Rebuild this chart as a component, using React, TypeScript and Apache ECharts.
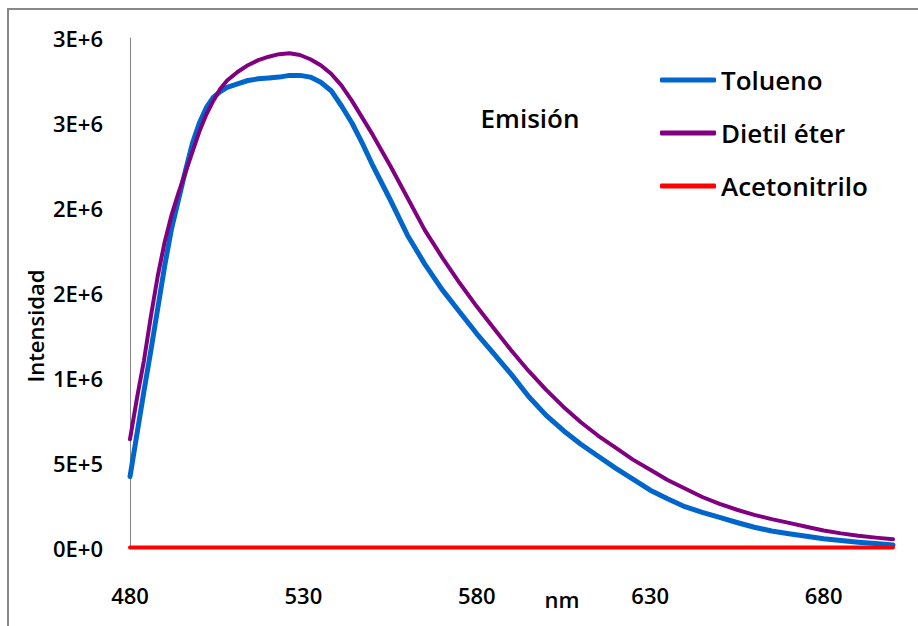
import React, { useEffect, useRef } from "react";
import * as echarts from "echarts";

// Wavelength (nm) grid shared by the two emission spectra
const WAVELENGTHS = [
  480, 482, 484, 486, 488, 490, 492, 494, 496, 498, 500, 502, 504, 506, 508,
  511, 514, 517, 520, 523, 526, 529, 532, 535, 538, 541, 544, 547, 550, 555,
  560, 565, 570, 575, 580, 585, 590, 595, 600, 605, 610, 615, 620, 625, 630,
  635, 640, 645, 650, 655, 660, 665, 670, 675, 680, 685, 690, 695, 700,
];

const TOLUENO = [
  420000, 670000, 920000, 1160000, 1410000, 1660000, 1880000, 2050000, 2220000, 2380000,
  2500000, 2590000, 2650000, 2685000, 2710000, 2730000, 2750000, 2760000, 2765000, 2770000,
  2780000, 2780000, 2770000, 2740000, 2690000, 2600000, 2500000, 2380000, 2250000, 2050000,
  1840000, 1670000, 1520000, 1390000, 1260000, 1140000, 1020000, 890000, 780000, 690000,
  610000, 540000, 470000, 405000, 340000, 290000, 243000, 210000, 180000, 150000,
  122000, 100000, 84000, 69000, 55000, 44000, 34000, 26000, 18000,
];

const DIETIL_ETER = [
  640000, 880000, 1100000, 1360000, 1600000, 1800000, 1960000, 2090000, 2210000, 2330000,
  2450000, 2550000, 2630000, 2700000, 2750000, 2800000, 2840000, 2870000, 2890000, 2905000,
  2910000, 2900000, 2875000, 2840000, 2790000, 2720000, 2630000, 2530000, 2430000, 2250000,
  2060000, 1870000, 1710000, 1560000, 1420000, 1290000, 1160000, 1040000, 930000, 830000,
  740000, 660000, 590000, 520000, 460000, 400000, 350000, 300000, 260000, 225000,
  195000, 170000, 148000, 125000, 103000, 86000, 72000, 61000, 51000,
];

const ACETONITRILO_WL = [480, 520, 560, 600, 640, 680, 700];
const ACETONITRILO = [3000, 3000, 3000, 3000, 3000, 3000, 3000];

const SERIES_NAMES = ["Tolueno", "Dietil éter", "Acetonitrilo"];
const SERIES_COLORS = ["#0066CC", "#800080", "#FF0000"];

const X_TICKS = [480, 530, 580, 630, 680];
const Y_TICK_LABELS = ["0E+0", "5E+5", "1E+6", "2E+6", "2E+6", "3E+6", "3E+6"];

const FONT = "'Open Sans', 'Noto Sans', sans-serif";
const WEIGHT = 600;

export default function App() {
  const ref = useRef<HTMLDivElement>(null);

  useEffect(() => {
    if (!ref.current) return;
    const chart = echarts.init(ref.current, undefined, { renderer: "svg" });

    const pair = (xs: number[], ys: number[]) => xs.map((x, i) => [x, ys[i]]);

    chart.setOption({
      animation: false,
      backgroundColor: "#ffffff",
      grid: { left: 130, top: 38, right: 25, bottom: 78, containLabel: false },
      xAxis: {
        type: "value",
        min: 480,
        max: 700,
        interval: 10,
        axisLine: { show: true, lineStyle: { color: "#868686", width: 1 } },
        axisTick: { show: false },
        splitLine: { show: false },
        axisLabel: {
          showMaxLabel: false,
          margin: 36,
          color: "#000",
          fontSize: 22,
          fontWeight: WEIGHT,
          fontFamily: FONT,
          formatter: (v: number) => (X_TICKS.includes(v) ? String(v) : ""),
        },
      },
      yAxis: {
        type: "value",
        min: 0,
        max: 3000000,
        interval: 500000,
        axisLine: { show: true, lineStyle: { color: "#868686", width: 1 } },
        axisTick: { show: false },
        splitLine: { show: false },
        axisLabel: {
          margin: 27,
          color: "#000",
          fontSize: 22,
          fontWeight: WEIGHT,
          fontFamily: FONT,
          formatter: (v: number) => Y_TICK_LABELS[Math.round(v / 500000)] ?? "",
        },
      },
      legend: {
        orient: "vertical",
        left: 655,
        top: 62,
        icon: "roundRect",
        itemWidth: 56,
        itemHeight: 5,
        itemGap: 27,
        data: SERIES_NAMES,
        textStyle: { color: "#000", fontSize: 26, fontWeight: WEIGHT, fontFamily: FONT },
      },
      graphic: [
        {
          type: "rect",
          silent: true,
          shape: { x: 8, y: 9, width: 2000, height: 2000 },
          style: { fill: "none", stroke: "#888888", lineWidth: 2 },
          z: 0,
        },
        {
          type: "text",
          x: 530,
          y: 118,
          style: {
            text: "Emisión",
            fill: "#000",
            fontSize: 26,
            fontWeight: WEIGHT,
            fontFamily: FONT,
            textAlign: "center",
            textVerticalAlign: "middle",
          },
        },
        {
          type: "text",
          x: 35,
          y: 326,
          rotation: Math.PI / 2,
          style: {
            text: "Intensidad",
            fill: "#000",
            fontSize: 22,
            fontWeight: WEIGHT,
            fontFamily: FONT,
            textAlign: "center",
            textVerticalAlign: "middle",
          },
        },
        {
          type: "text",
          x: 562,
          y: 599,
          style: {
            text: "nm",
            fill: "#000",
            fontSize: 22,
            fontWeight: WEIGHT,
            fontFamily: FONT,
            textAlign: "center",
            textVerticalAlign: "middle",
          },
        },
      ],
      series: [
        {
          name: SERIES_NAMES[0],
          type: "line",
          symbol: "none",
          showSymbol: false,
          color: SERIES_COLORS[0],
          lineStyle: { color: SERIES_COLORS[0], width: 5, cap: "round", join: "round" },
          data: pair(WAVELENGTHS, TOLUENO),
        },
        {
          name: SERIES_NAMES[1],
          type: "line",
          symbol: "none",
          showSymbol: false,
          color: SERIES_COLORS[1],
          lineStyle: { color: SERIES_COLORS[1], width: 4, cap: "round", join: "round" },
          data: pair(WAVELENGTHS, DIETIL_ETER),
        },
        {
          name: SERIES_NAMES[2],
          type: "line",
          symbol: "none",
          showSymbol: false,
          color: SERIES_COLORS[2],
          lineStyle: { color: SERIES_COLORS[2], width: 4, cap: "round", join: "round" },
          data: pair(ACETONITRILO_WL, ACETONITRILO),
        },
      ],
    });

    return () => chart.dispose();
  }, []);

  return (
    <div
      ref={ref}
      style={{ position: "absolute", left: 0, top: 0, width: 918, height: 626 }}
    />
  );
}
